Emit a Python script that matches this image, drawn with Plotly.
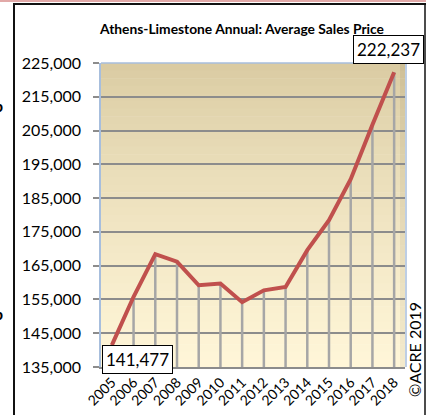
import plotly.graph_objects as go

years = ["2005", "2006", "2007", "2008", "2009", "2010", "2011",
         "2012", "2013", "2014", "2015", "2016", "2017", "2018"]
avg_price = [141477, 155800, 168400, 166200, 159200, 159700, 154200,
             157700, 158700, 169600, 178500, 190600, 206700, 222237]
y_ticks = [135000, 145000, 155000, 165000, 175000, 185000, 195000,
           205000, 215000, 225000]
title_text = "Athens-Limestone Annual: Average Sales Price"
credit_text = "©ACRE 2019"

W, H = 426, 415
L, R, T, B = 101, 405, 63, 367
PW, PH = R - L, B - T


def px(x):
    return (x - L) / PW


def py(y):
    return (B - y) / PH


FONT = "Lato"
fig = go.Figure()

# drop lines from each point to the axis
dx, dy = [], []
for yr, v in zip(years, avg_price):
    dx += [yr, yr, None]
    dy += [y_ticks[0], v, None]
fig.add_trace(go.Scatter(x=dx, y=dy, mode="lines",
                         line=dict(color="#A6A6A6", width=2.5),
                         hoverinfo="skip", showlegend=False))

fig.add_trace(go.Scatter(x=years, y=avg_price, mode="lines",
                         line=dict(color="#C0504D", width=4),
                         showlegend=False))

shapes = []
# gradient background of plot area
top_c = (218, 203, 162)
bot_c = (255, 246, 216)
n = 40
for i in range(n):
    t = i / (n - 1)
    c = tuple(round(top_c[k] + (bot_c[k] - top_c[k]) * (t ** 0.8)) for k in range(3))
    y0 = T + PH * i / n
    y1 = T + PH * (i + 1) / n + 0.5
    shapes.append(dict(type="rect", xref="paper", yref="paper",
                       x0=px(L), x1=px(R - 5), y0=py(y1), y1=py(y0),
                       fillcolor="rgb(%d,%d,%d)" % c, line=dict(width=0),
                       layer="below"))
    c2 = tuple(max(0, v - 12) for v in c)
    shapes.append(dict(type="rect", xref="paper", yref="paper",
                       x0=px(R - 5), x1=px(R), y0=py(y1), y1=py(y0),
                       fillcolor="rgb(%d,%d,%d)" % c2, line=dict(width=0),
                       layer="below"))
# plot border (light blue) top, right
shapes.append(dict(type="line", xref="paper", yref="paper",
                   x0=px(L), x1=px(R + 1), y0=py(T), y1=py(T),
                   line=dict(color="#A7BEDD", width=1.5)))
shapes.append(dict(type="line", xref="paper", yref="paper",
                   x0=px(R + 1), x1=px(R + 1), y0=py(T), y1=py(B),
                   line=dict(color="#A7BEDD", width=1.5)))
# outer frame
shapes.append(dict(type="line", xref="paper", yref="paper",
                   x0=px(0), x1=px(W), y0=py(1), y1=py(1),
                   line=dict(color="#E2A9A8", width=2)))
shapes.append(dict(type="line", xref="paper", yref="paper",
                   x0=px(14), x1=px(14), y0=py(4), y1=py(H + 2),
                   line=dict(color="#111111", width=2)))
shapes.append(dict(type="line", xref="paper", yref="paper",
                   x0=px(13), x1=px(W + 2), y0=py(4), y1=py(4),
                   line=dict(color="#111111", width=2)))
shapes.append(dict(type="line", xref="paper", yref="paper",
                   x0=px(425), x1=px(425), y0=py(4), y1=py(H + 2),
                   line=dict(color="#111111", width=1.5)))

last = len(years) - 1
annotations = [
    dict(text="<b>" + title_text + "</b>", xref="paper", yref="paper",
         x=px(241), y=py(29), xanchor="center", yanchor="middle",
         showarrow=False,
         font=dict(family=FONT, size=13.8, color="#000000")),
    dict(text=f"{avg_price[last]:,}", x=last, y=avg_price[last],
         xref="x", yref="y", showarrow=True, arrowcolor="rgba(0,0,0,0)",
         ax=-6, ay=-23, bgcolor="#FFFFFF", bordercolor="#000000",
         borderwidth=1, borderpad=3,
         font=dict(family=FONT, size=17, color="#000000")),
    dict(text=f"{avg_price[0]:,}", x=0, y=avg_price[0],
         xref="x", yref="y", showarrow=True, arrowcolor="rgba(0,0,0,0)",
         ax=26, ay=14, bgcolor="#FFFFFF", bordercolor="#000000",
         borderwidth=1, borderpad=3,
         font=dict(family=FONT, size=17, color="#000000")),
    dict(text=credit_text, xref="paper", yref="paper",
         x=px(414), y=py(350), xanchor="center", yanchor="middle",
         showarrow=False, textangle=-90,
         font=dict(family=FONT, size=16, color="#000000")),
    dict(text="<b>b</b>", xref="paper", yref="paper", x=px(5), y=py(105),
         xanchor="right", yanchor="middle", showarrow=False,
         font=dict(family=FONT, size=16, color="#000000")),
    dict(text="<b>b</b>", xref="paper", yref="paper", x=px(5), y=py(313),
         xanchor="right", yanchor="middle", showarrow=False,
         font=dict(family=FONT, size=16, color="#000000")),
]

fig.update_layout(
    width=W, height=H,
    margin=dict(l=L, r=W - R, t=T, b=H - B, pad=0, autoexpand=False),
    paper_bgcolor="#FFFFFF", plot_bgcolor="rgba(0,0,0,0)",
    shapes=shapes, annotations=annotations,
    xaxis=dict(type="category", range=[-0.5, 13.5], tickangle=-45,
               showgrid=False, ticks="", showline=True, automargin=False,
               linecolor="#8C8C8C", linewidth=1.5,
               tickfont=dict(family=FONT, size=14, color="#000000")),
    yaxis=dict(range=[y_ticks[0], y_ticks[-1]], tickvals=y_ticks,
               ticktext=[f"{v:,}" for v in y_ticks], automargin=False,
               showgrid=True, gridcolor="#8C8C8C", gridwidth=1.5,
               ticks="outside", ticklen=6, tickcolor="#8C8C8C",
               tickwidth=1.5, showline=True, linecolor="#A7BEDD",
               linewidth=1.5, ticklabelstandoff=9, zeroline=False,
               tickfont=dict(family=FONT, size=16, color="#000000")),
)

fig.write_html("out.html", config={"displayModeBar": False},
               post_script="document.body.style.margin='0';")
